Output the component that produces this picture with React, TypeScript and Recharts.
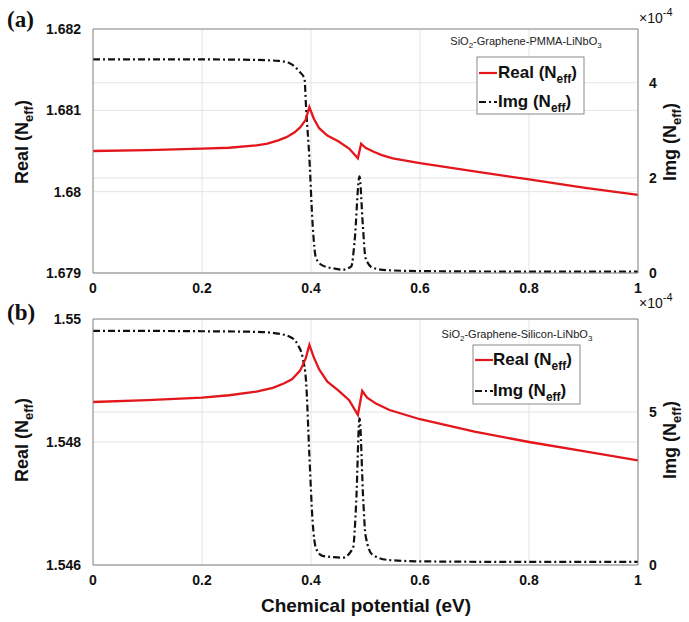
import React from 'react';
import { LineChart, Line, XAxis, YAxis, CartesianGrid, ReferenceLine } from 'recharts';

// ---------- data ----------
const xTicks = [0, 0.2, 0.4, 0.6, 0.8, 1];
const xTickLabels = ['0', '0.2', '0.4', '0.6', '0.8', '1'];

// Panel (a): SiO2-Graphene-PMMA-LiNbO3
const aTitle = 'PMMA';
const aRealX = [0, 0.1, 0.2, 0.25, 0.3, 0.32, 0.34, 0.355, 0.37, 0.38, 0.39, 0.397, 0.405, 0.415, 0.43, 0.45, 0.47, 0.486, 0.492, 0.5, 0.515, 0.53, 0.55, 0.6, 0.7, 0.8, 0.9, 1.0];
const aRealY = [1.6805, 1.68051, 1.68053, 1.68054, 1.68057, 1.68059, 1.68063, 1.68067, 1.68073, 1.68079, 1.68088, 1.68104, 1.6809, 1.68078, 1.68069, 1.68062, 1.68053, 1.68041, 1.68059, 1.68054, 1.68049, 1.68045, 1.68041, 1.68035, 1.68025, 1.68015, 1.68005, 1.67996];
const aImgX = [0, 0.1, 0.2, 0.3, 0.34, 0.361, 0.379, 0.388, 0.391, 0.397, 0.403, 0.409, 0.421, 0.44, 0.458, 0.474, 0.48, 0.489, 0.495, 0.5, 0.513, 0.54, 0.6, 0.8, 1.0];
const aImgY = [4.49, 4.49, 4.49, 4.48, 4.46, 4.41, 4.23, 4.09, 3.47, 2.42, 1.02, 0.32, 0.16, 0.1, 0.07, 0.14, 0.67, 2.03, 1.02, 0.32, 0.11, 0.06, 0.04, 0.03, 0.03];
const aLeftTicks = [1.679, 1.68, 1.681, 1.682];
const aLeftLabels = ['1.679', '1.68', '1.681', '1.682'];
const aRightTicks = [0, 2, 4];
const aRightLabels = ['0', '2', '4'];

// Panel (b): SiO2-Graphene-Silicon-LiNbO3
const bTitle = 'Silicon';
const bRealX = [0, 0.1, 0.2, 0.25, 0.3, 0.33, 0.35, 0.365, 0.38, 0.39, 0.397, 0.405, 0.415, 0.43, 0.45, 0.47, 0.486, 0.494, 0.503, 0.52, 0.544, 0.6, 0.7, 0.8, 0.9, 1.0];
const bRealY = [1.54865, 1.54868, 1.54872, 1.54876, 1.54882, 1.54888, 1.54895, 1.54902, 1.54916, 1.54935, 1.54958, 1.54938, 1.54918, 1.54898, 1.54884, 1.54868, 1.54844, 1.54883, 1.54872, 1.54862, 1.54852, 1.54837, 1.54817, 1.548, 1.54785, 1.5477];
const bImgX = [0, 0.1, 0.2, 0.3, 0.336, 0.361, 0.376, 0.385, 0.391, 0.397, 0.403, 0.409, 0.421, 0.44, 0.458, 0.477, 0.483, 0.489, 0.496, 0.5, 0.513, 0.544, 0.6, 0.8, 1.0];
const bImgY = [7.65, 7.65, 7.64, 7.62, 7.57, 7.46, 7.19, 6.75, 5.99, 3.59, 1.42, 0.55, 0.3, 0.26, 0.24, 0.55, 2.07, 4.79, 2.07, 0.98, 0.33, 0.16, 0.12, 0.1, 0.1];
const bLeftTicks = [1.546, 1.548, 1.55];
const bLeftLabels = ['1.546', '1.548', '1.55'];
const bRightTicks = [0, 5];
const bRightLabels = ['0', '5'];

// ---------- helpers ----------
const FONT = '"Liberation Sans", Arial, Helvetica, sans-serif';
const RED = '#e3161c';

function merge(rx: number[], ry: number[], ix: number[], iy: number[]) {
  const map = new Map<number, any>();
  rx.forEach((x, i) => {
    const o = map.get(x) || { x };
    o.real = ry[i];
    map.set(x, o);
  });
  ix.forEach((x, i) => {
    const o = map.get(x) || { x };
    o.img = iy[i];
    map.set(x, o);
  });
  return Array.from(map.values()).sort((a, b) => a.x - b.x);
}

const tickStyle = { fill: '#111', fontSize: 14, fontWeight: 700, fontFamily: FONT };

type PanelProps = {
  top: number;
  height: number;
  letter: string;
  data: any[];
  leftDomain: [number, number];
  leftTicks: number[];
  leftLabels: string[];
  rightDomain: [number, number];
  rightTicks: number[];
  rightLabels: string[];
  material: string;
  layout: {
    plotBottomMargin: number;
    labelCy: number;
    letterY: number;
    expY: number;
    titleX: number;
    titleY: number;
    legX: number;
    legY: number;
    legW: number;
    legH: number;
    row1: number;
    row2: number;
    textX: number;
  };
};

function Neff({ x, y, label, size }: { x: number; y: number; label: string; size: number }) {
  return (
    <text x={x} y={y} fontFamily={FONT} fontWeight={700} fontSize={size} fill="#111">
      {label} (N
      <tspan fontSize={size * 0.7} dy={size * 0.28}>eff</tspan>
      <tspan dy={-size * 0.28}>)</tspan>
    </text>
  );
}

function Panel(p: PanelProps) {
  const L = p.layout;
  return (
    <div style={{ position: 'absolute', left: 0, top: p.top, width: 689, height: p.height }}>
      <LineChart
        width={689}
        height={p.height}
        data={p.data}
        margin={{ top: 29, right: 11, left: 33, bottom: L.plotBottomMargin }}
      >
        <CartesianGrid stroke="#e4e4e4" strokeWidth={1} yAxisId="left" />
        {p.rightTicks.map((t) => (
          <ReferenceLine key={'r' + t} yAxisId="right" y={t} stroke="#e4e4e4" strokeWidth={1} />
        ))}
        <XAxis
          dataKey="x"
          type="number"
          domain={[0, 1]}
          ticks={xTicks}
          tickFormatter={(v: number) => xTickLabels[xTicks.indexOf(v)] ?? String(v)}
          tick={tickStyle}
          tickLine={false}
          tickMargin={4}
          height={25}
          axisLine={{ stroke: '#8a8a8a' }}
          allowDataOverflow
        />
        <YAxis
          yAxisId="left"
          orientation="left"
          width={60}
          domain={p.leftDomain}
          ticks={p.leftTicks}
          tickFormatter={(v: number) => {
            const i = p.leftTicks.findIndex((t) => Math.abs(t - v) < 1e-9);
            return i >= 0 ? p.leftLabels[i] : String(v);
          }}
          tick={tickStyle}
          tickLine={false}
          tickMargin={6}
          axisLine={{ stroke: '#8a8a8a' }}
          allowDataOverflow
        />
        <YAxis
          yAxisId="right"
          orientation="right"
          width={40}
          domain={p.rightDomain}
          ticks={p.rightTicks}
          tickFormatter={(v: number) => {
            const i = p.rightTicks.indexOf(v);
            return i >= 0 ? p.rightLabels[i] : String(v);
          }}
          tick={{ ...tickStyle, textAnchor: 'start' }}
          tickLine={false}
          tickMargin={5}
          axisLine={{ stroke: '#8a8a8a' }}
          allowDataOverflow
        />
        <ReferenceLine yAxisId="left" y={p.leftDomain[1]} stroke="#8a8a8a" strokeWidth={1} />
        <Line
          yAxisId="right"
          dataKey="img"
          type="monotone"
          stroke="#111"
          strokeWidth={2.2}
          strokeDasharray="7 3 2 3"
          dot={false}
          connectNulls
          isAnimationActive={false}
        />
        <Line
          yAxisId="left"
          dataKey="real"
          type="linear"
          stroke={RED}
          strokeWidth={2.3}
          dot={false}
          connectNulls
          isAnimationActive={false}
        />
      </LineChart>
      <svg
        width={689}
        height={p.height}
        style={{ position: 'absolute', left: 0, top: 0, pointerEvents: 'none' }}
      >
        <text x={7} y={L.letterY} fontFamily='"Liberation Serif", "Times New Roman", serif' fontWeight={700} fontSize={23} fill="#111">
          {p.letter}
        </text>
        <g transform={`translate(28, ${L.labelCy}) rotate(-90)`}>
          <text x={0} y={0} textAnchor="middle" fontFamily={FONT} fontWeight={700} fontSize={18} fill="#111">
            Real (N
            <tspan fontSize={13} dy={5}>eff</tspan>
            <tspan dy={-5}>)</tspan>
          </text>
        </g>
        <g transform={`translate(676, ${L.labelCy}) rotate(-90)`}>
          <text x={0} y={0} textAnchor="middle" fontFamily={FONT} fontWeight={700} fontSize={18} fill="#111">
            Img (N
            <tspan fontSize={13} dy={5}>eff</tspan>
            <tspan dy={-5}>)</tspan>
          </text>
        </g>
        <text x={639} y={L.expY} fontFamily={FONT} fontSize={14} fill="#111">
          ×10
          <tspan fontSize={11} dy={-7}>-4</tspan>
        </text>
        <text x={L.titleX} y={L.titleY} textAnchor="middle" fontFamily={FONT} fontSize={11} fill="#222">
          SiO
          <tspan fontSize={8} dy={3}>2</tspan>
          <tspan dy={-3}>-Graphene-{p.material}-LiNbO</tspan>
          <tspan fontSize={8} dy={3}>3</tspan>
        </text>
        <rect x={L.legX} y={L.legY} width={L.legW} height={L.legH} fill="#fff" stroke="#8a8a8a" strokeWidth={1} />
        <line x1={L.legX + 2} x2={L.legX + 20} y1={L.legY + L.row1 - 5} y2={L.legY + L.row1 - 5} stroke={RED} strokeWidth={2.2} />
        <line x1={L.legX + 2} x2={L.legX + 20} y1={L.legY + L.row2 - 5} y2={L.legY + L.row2 - 5} stroke="#111" strokeWidth={2.2} strokeDasharray="7 3 2 3" />
        <Neff x={L.legX + L.textX} y={L.legY + L.row1} label="Real" size={17} />
        <Neff x={L.legX + L.textX} y={L.legY + L.row2} label="Img" size={17} />
      </svg>
    </div>
  );
}

export default function App() {
  const dataA = merge(aRealX, aRealY, aImgX, aImgY);
  const dataB = merge(bRealX, bRealY, bImgX, bImgY);
  return (
    <div style={{ position: 'absolute', left: 0, top: 0, width: 689, height: 622, background: '#fff', overflow: 'hidden' }}>
      <Panel
        top={0}
        height={300}
        letter="(a)"
        data={dataA}
        leftDomain={[1.679, 1.682]}
        leftTicks={aLeftTicks}
        leftLabels={aLeftLabels}
        rightDomain={[0, 5.13]}
        rightTicks={aRightTicks}
        rightLabels={aRightLabels}
        material={aTitle}
        layout={{
          plotBottomMargin: 2,
          labelCy: 142,
          letterY: 27,
          expY: 23,
          titleX: 526,
          titleY: 45,
          legX: 477,
          legY: 57,
          legW: 107,
          legH: 57,
          row1: 21,
          row2: 50,
          textX: 21,
        }}
      />
      <Panel
        top={290}
        height={310}
        letter="(b)"
        data={dataB}
        leftDomain={[1.546, 1.55]}
        leftTicks={bLeftTicks}
        leftLabels={bLeftLabels}
        rightDomain={[0, 8.04]}
        rightTicks={bRightTicks}
        rightLabels={bRightLabels}
        material={bTitle}
        layout={{
          plotBottomMargin: 10,
          labelCy: 150,
          letterY: 30,
          expY: 18,
          titleX: 517,
          titleY: 48,
          legX: 473,
          legY: 55,
          legW: 107,
          legH: 59,
          row1: 20,
          row2: 51,
          textX: 20,
        }}
      />
      <svg width={689} height={622} style={{ position: 'absolute', left: 0, top: 0, pointerEvents: 'none' }}>
        <text x={366} y={612} textAnchor="middle" fontFamily={FONT} fontWeight={700} fontSize={19} fill="#111">
          Chemical potential (eV)
        </text>
      </svg>
    </div>
  );
}
